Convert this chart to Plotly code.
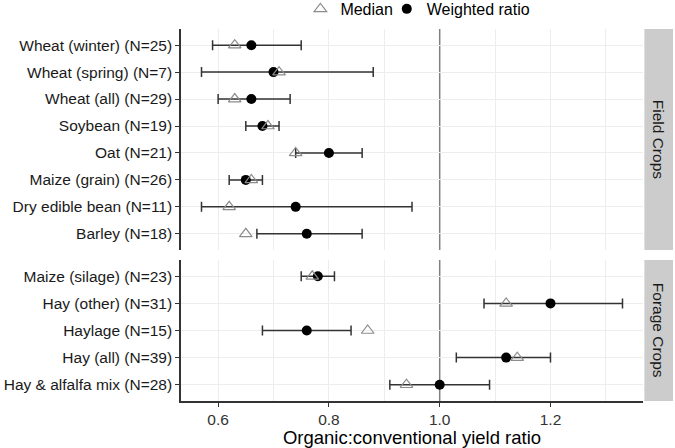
import plotly.graph_objects as go

field_crops = ["Wheat (winter) (N=25)", "Wheat (spring) (N=7)", "Wheat (all) (N=29)",
               "Soybean (N=19)", "Oat (N=21)", "Maize (grain) (N=26)",
               "Dry edible bean (N=11)", "Barley (N=18)"]
field_weighted = [0.66, 0.70, 0.66, 0.68, 0.80, 0.65, 0.74, 0.76]
field_median = [0.63, 0.71, 0.63, 0.69, 0.74, 0.66, 0.62, 0.65]
field_low = [0.59, 0.57, 0.60, 0.65, 0.74, 0.62, 0.57, 0.67]
field_high = [0.75, 0.88, 0.73, 0.71, 0.86, 0.68, 0.95, 0.86]

forage_crops = ["Maize (silage) (N=23)", "Hay (other) (N=31)", "Haylage (N=15)",
                "Hay (all) (N=39)", "Hay & alfalfa mix (N=28)"]
forage_weighted = [0.78, 1.20, 0.76, 1.12, 1.00]
forage_median = [0.77, 1.12, 0.87, 1.14, 0.94]
forage_low = [0.75, 1.08, 0.68, 1.03, 0.91]
forage_high = [0.81, 1.33, 0.84, 1.20, 1.09]

panel_labels = ["Field Crops", "Forage Crops"]
x_ticks = [0.6, 0.8, 1.0, 1.2]
x_minor = [0.7, 0.9, 1.1, 1.3]
x_title = "Organic:conventional yield ratio"
ref_value = 1.0

FONT = "Liberation Sans, Arial, sans-serif"
fig = go.Figure()

panels = [
    (field_crops, field_weighted, field_median, field_low, field_high, "x", "y"),
    (forage_crops, forage_weighted, forage_median, forage_low, forage_high, "x2", "y2"),
]
for i, (cats, w, m, lo, hi, xa, ya) in enumerate(panels):
    fig.add_trace(go.Scatter(
        x=w, y=cats, mode="markers", xaxis=xa, yaxis=ya,
        name="Weighted ratio", legend="legend2", legendgroup="w", showlegend=(i == 0),
        marker=dict(symbol="circle", size=10, color="black"),
        error_x=dict(type="data", symmetric=False,
                     array=[h - v for h, v in zip(hi, w)],
                     arrayminus=[v - l for l, v in zip(lo, w)],
                     color="#333333", thickness=1.5, width=5),
    ))
    fig.add_trace(go.Scatter(
        x=m, y=cats, mode="markers", xaxis=xa, yaxis=ya,
        name="Median", legend="legend", legendgroup="m", showlegend=(i == 0),
        marker=dict(symbol="triangle-up-open", size=11, color="#8c8c8c",
                    line=dict(width=1.2, color="#8c8c8c")),
    ))

# grid lines at every 0.1 except where the reference line sits
grid_vals = sorted(v for v in x_ticks + x_minor if abs(v - ref_value) > 1e-9)
xrange = [0.533, 1.367]
common_x = dict(range=xrange, tickvals=x_ticks, showgrid=False, zeroline=False,
                minor=dict(tickvals=grid_vals, showgrid=True, gridcolor="#ededed",
                           gridwidth=1))
ytick_font = dict(size=15.5, color="#1a1a1a", family=FONT)
fig.update_layout(
    xaxis=dict(**common_x, anchor="y", matches="x2", showticklabels=False,
               showline=False, ticks=""),
    xaxis2=dict(**common_x, anchor="y2", showline=True, linecolor="#333333", linewidth=1.5,
                ticks="outside", ticklen=4, tickwidth=1.2, tickcolor="#333333",
                tickformat=".1f", tickfont=dict(size=15.5, color="#333333", family=FONT),
                title=dict(text=x_title, font=dict(size=18.5, color="black", family=FONT),
                           standoff=6)),
    yaxis=dict(domain=[0.406, 1.0], type="category", categoryorder="array",
               categoryarray=field_crops, range=[len(field_crops) - 0.4, -0.6],
               showgrid=True, gridcolor="#ededed", showline=True, linecolor="#333333",
               linewidth=1.5, ticks="outside", ticklen=4, tickcolor="#333333",
               tickfont=ytick_font),
    yaxis2=dict(domain=[0.0, 0.379], type="category", categoryorder="array",
                categoryarray=forage_crops, range=[len(forage_crops) - 0.4, -0.6],
                showgrid=True, gridcolor="#ededed", showline=True, linecolor="#333333",
                linewidth=1.5, ticks="outside", ticklen=4, tickcolor="#333333",
                tickfont=ytick_font),
)

# reference line at 1.0 in each panel
for xa, ya in [("x", "y"), ("x2", "y2")]:
    fig.add_shape(type="line", xref=xa, yref=ya + " domain", x0=ref_value, x1=ref_value,
                  y0=0, y1=1, line=dict(color="#808080", width=1.5), layer="below")

# facet strips
strip_y = [(0.406, 1.0), (0.0, 0.379)]
for lab, (y0, y1) in zip(panel_labels, strip_y):
    fig.add_shape(type="rect", xref="paper", yref="paper", x0=1.003, x1=1.065,
                  y0=y0, y1=y1, fillcolor="#cccccc", line=dict(width=0))
    fig.add_annotation(xref="paper", yref="paper", x=1.034, y=(y0 + y1) / 2,
                       xanchor="center", yanchor="middle",
                       text=lab, showarrow=False, textangle=90,
                       font=dict(size=15.5, color="#1a1a1a", family=FONT))

legend_common = dict(orientation="h", xref="container", yref="container",
                     xanchor="left", y=0.98, yanchor="middle",
                     font=dict(size=16, family=FONT), itemwidth=30,
                     bgcolor="rgba(0,0,0,0)")
fig.update_layout(
    width=675, height=448,
    margin=dict(l=181, r=32, t=29, b=47, autoexpand=False),
    paper_bgcolor="white", plot_bgcolor="white",
    font=dict(family=FONT, color="black"),
    legend=dict(**legend_common, x=0.445),
    legend2=dict(**legend_common, x=0.573),
)

fig.write_html("out.html", config={"displayModeBar": False},
               post_script="document.body.style.margin='0';")
